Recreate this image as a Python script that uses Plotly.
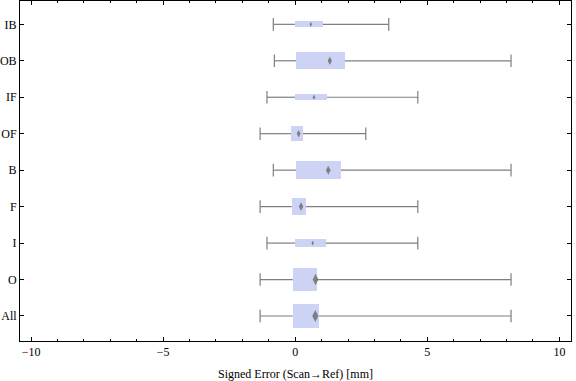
import plotly.graph_objects as go

# Categories, bottom to top
categories = ["All", "O", "I", "F", "B", "OF", "IF", "OB", "IB"]
whisker_min = [-1.33, -1.33, -1.07, -1.33, -0.83, -1.33, -1.07, -0.79, -0.83]
q1 = [-0.09, -0.09, -0.01, -0.13, 0.03, -0.16, -0.01, 0.03, -0.01]
q3 = [0.90, 0.82, 1.16, 0.41, 1.73, 0.29, 1.20, 1.88, 1.05]
whisker_max = [8.17, 8.17, 4.64, 4.64, 8.17, 2.67, 4.64, 8.17, 3.54]
center_marker = [0.76, 0.77, 0.66, 0.22, 1.25, 0.13, 0.71, 1.31, 0.59]
box_width = [0.66, 0.63, 0.22, 0.466, 0.49, 0.41, 0.165, 0.458, 0.156]

x_ticks = [-10, -5, 0, 5, 10]
x_ticktext = ["\u221210", "\u22125", "0", "5", "10"]

BOX_FILL = "#cdd3f5"
GRAY = "#7f7f7f"
FONT = "Liberation Serif"

fig = go.Figure()

# boxes
fig.add_trace(go.Bar(
    orientation="h", y=categories,
    x=[b - a for a, b in zip(q1, q3)], base=q1,
    width=box_width, marker=dict(color=BOX_FILL, line=dict(width=0)),
    hoverinfo="skip", showlegend=False,
))

# whisker lines (outside the boxes)
wx, wy = [], []
for c, lo, a, b, hi in zip(categories, whisker_min, q1, q3, whisker_max):
    wx += [lo, a, None, b, hi, None]
    wy += [c, c, None, c, c, None]
fig.add_trace(go.Scatter(
    x=wx, y=wy, mode="lines", line=dict(color=GRAY, width=1.2),
    hoverinfo="skip", showlegend=False,
))

# whisker caps
fig.add_trace(go.Scatter(
    x=whisker_min + whisker_max, y=categories + categories, mode="markers",
    marker=dict(symbol="line-ns", size=9, line=dict(color=GRAY, width=1.2)),
    hoverinfo="skip", showlegend=False,
))

# central diamond markers
marker_sizes = [max(3.5, w * 36.5 * 0.36) for w in box_width]
fig.add_trace(go.Scatter(
    x=center_marker, y=categories, mode="markers",
    marker=dict(symbol="diamond-tall", size=marker_sizes, color="#707070",
                opacity=0.85, line=dict(width=0)),
    hoverinfo="skip", showlegend=False,
))

fig.update_layout(
    width=576, height=381,
    margin=dict(l=20, r=5, t=1, b=40, autoexpand=False),
    paper_bgcolor="white", plot_bgcolor="white",
    font=dict(family=FONT, size=12, color="black"),
    bargap=0,
    xaxis=dict(
        range=[-10.42, 10.44], tickvals=x_ticks, ticktext=x_ticktext,
        ticks="inside", ticklen=4, tickwidth=1, tickcolor="black",
        minor=dict(dtick=1, tick0=0, ticks="inside", ticklen=2, tickcolor="black", tickwidth=1),
        showline=True, linecolor="black", linewidth=1, mirror="ticks",
        showgrid=False, zeroline=False, automargin=False,
        title=dict(text="Signed Error (Scan\u2192Ref) [mm]", font=dict(family=FONT, size=12)),
        tickfont=dict(family=FONT, size=12),
    ),
    yaxis=dict(
        type="category", categoryorder="array", categoryarray=categories,
        range=[-0.686, 8.64],
        ticks="inside", ticklen=4, tickwidth=1, tickcolor="black",
        showline=True, linecolor="black", linewidth=1, mirror="ticks",
        showgrid=False, zeroline=False, automargin=False,
        tickfont=dict(family=FONT, size=12),
    ),
)

fig.write_html(
    "out.html",
    config={"displayModeBar": False},
    post_script="document.body.style.margin='0';document.body.style.overflow='hidden';",
)
